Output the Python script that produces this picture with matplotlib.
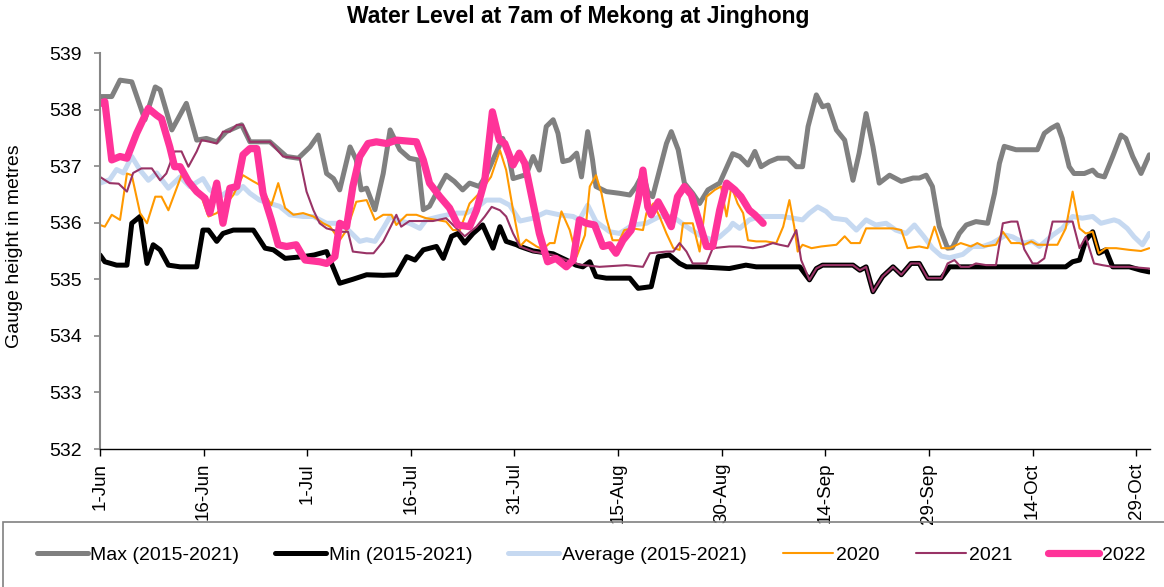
import matplotlib
matplotlib.use("Agg")
import matplotlib.pyplot as plt
from matplotlib.patches import Rectangle

plt.rcParams['font.family'] = ['Liberation Sans', 'DejaVu Sans']

# ---------------- data (day index from 1-Jun, metres) ----------------
TICK_DAYS = [0, 15, 30, 45, 60, 75, 90, 105, 120, 135, 150]
TICK_LABELS = ["1-Jun", "16-Jun", "1-Jul", "16-Jul", "31-Jul", "15-Aug",
               "30-Aug", "14-Sep", "29-Sep", "14-Oct", "29-Oct"]
Y_TICKS = [532, 533, 534, 535, 536, 537, 538, 539]

MAX_D = [0, 1.7, 2.9, 4.6, 6.5, 8.0, 8.7, 10.4, 12.5, 14.0, 15.4, 16.9, 18.3, 20.5, 21.7,
         24.6, 27.0, 28.7, 30.4, 31.6, 32.8, 33.8, 34.7, 36.2, 37.1, 37.8, 38.6, 39.8, 41.0,
         42.0, 43.4, 44.8, 46.0, 46.8, 47.7, 49.2, 50.1, 51.3, 52.5, 53.5, 54.9, 55.9, 57.1,
         58.3, 59.1, 59.8, 61.7, 62.7, 63.6, 64.6, 65.6, 66.3, 67.0, 68.0, 69.0, 69.7, 70.6,
         71.3, 71.8, 73.3, 75.2, 76.7, 77.6, 78.6, 79.3, 80.0, 81.0, 82.0, 82.7, 83.7, 84.6,
         85.8, 86.8, 88.0, 89.7, 91.6, 92.6, 93.8, 94.8, 95.7, 96.9, 98.1, 99.6, 100.8, 101.7,
         102.5, 103.7, 104.6, 105.4, 106.6, 107.8, 109.0, 109.9, 110.9, 111.9, 112.8, 114.3,
         116.0, 117.7, 118.6, 119.6, 120.5, 121.5, 122.7, 123.4, 124.4, 125.4, 126.8, 128.5,
         129.5, 130.2, 130.9, 132.6, 134.3, 135.7, 136.7, 137.7, 138.6, 139.3, 140.3, 141.0,
         142.5, 143.7, 144.4, 145.4, 146.6, 147.8, 148.5, 149.5, 150.7, 151.9]
MAX_V = [538.23, 538.23, 538.52, 538.49, 537.82, 538.40, 538.35, 537.64, 538.11, 537.46,
         537.49, 537.43, 537.61, 537.73, 537.43, 537.43, 537.17, 537.14, 537.34, 537.55,
         536.87, 536.78, 536.58, 537.34, 537.11, 536.58, 536.61, 536.23, 536.87, 537.64,
         537.29, 537.14, 537.11, 536.23, 536.29, 536.64, 536.84, 536.73, 536.58, 536.70,
         536.64, 536.84, 537.17, 537.49, 537.23, 536.78, 536.85, 537.17, 536.93, 537.70,
         537.82, 537.58, 537.08, 537.11, 537.23, 536.81, 537.61, 537.11, 536.64, 536.55,
         536.52, 536.49, 536.64, 536.87, 536.55, 536.46, 536.93, 537.40, 537.61, 537.29,
         536.70, 536.52, 536.34, 536.58, 536.70, 537.22, 537.17, 537.02, 537.26, 536.99,
         537.08, 537.14, 537.14, 536.99, 536.99, 537.70, 538.26, 538.05, 538.08, 537.64,
         537.46, 536.75, 537.23, 537.93, 537.34, 536.70, 536.84, 536.73, 536.79, 536.79,
         536.84, 536.64, 535.93, 535.55, 535.56, 535.81, 535.96, 536.02, 535.99, 536.52,
         537.05, 537.35, 537.29, 537.29, 537.29, 537.58, 537.67, 537.73, 537.49, 536.99,
         536.87, 536.87, 536.93, 536.84, 536.81, 537.17, 537.55, 537.49, 537.17, 536.87,
         537.20]

MIN_D = [0, 0.7, 2.4, 3.9, 4.6, 5.8, 6.8, 7.7, 8.7, 9.9, 11.6, 14.0, 14.9, 15.7, 16.9, 17.8,
         19.3, 22.2, 23.9, 25.1, 26.8, 29.4, 31.0, 32.8, 34.7, 36.6, 38.6, 41.0, 42.9, 44.4,
         45.6, 46.8, 48.7, 49.7, 50.9, 51.8, 52.8, 54.0, 55.4, 56.9, 57.9, 58.8, 60.3, 60.8,
         62.7, 65.6, 67.5, 68.9, 69.9, 70.9, 71.8, 73.3, 75.2, 76.7, 77.9, 79.8, 80.8, 82.4,
         83.9, 84.9, 86.8, 91.1, 93.5, 95.0, 101.3, 102.7, 103.7, 104.6, 106.6, 109.0, 110.0,
         110.9, 111.9, 113.3, 114.8, 116.0, 117.4, 118.6, 119.8, 121.8, 123.0, 134.5, 139.8,
         140.8, 141.8, 142.7, 143.7, 144.6, 145.6, 146.6, 149.0, 150.7, 151.9]
MIN_V = [535.43, 535.31, 535.25, 535.25, 535.99, 536.11, 535.28, 535.61, 535.52, 535.25,
         535.22, 535.22, 535.87, 535.87, 535.67, 535.81, 535.87, 535.87, 535.55, 535.52,
         535.37, 535.40, 535.43, 535.49, 534.93, 535.00, 535.08, 535.07, 535.08, 535.40,
         535.34, 535.52, 535.58, 535.37, 535.76, 535.81, 535.64, 535.81, 535.96, 535.55,
         535.93, 535.67, 535.61, 535.58, 535.50, 535.45, 535.34, 535.25, 535.22, 535.31,
         535.05, 535.02, 535.02, 535.02, 534.84, 534.87, 535.40, 535.43, 535.28, 535.22,
         535.22, 535.19, 535.25, 535.22, 535.22, 534.99, 535.19, 535.25, 535.25, 535.25,
         535.16, 535.22, 534.78, 535.05, 535.22, 535.08, 535.28, 535.28, 535.02, 535.02,
         535.22, 535.22, 535.22, 535.31, 535.34, 535.69, 535.84, 535.46, 535.52, 535.22,
         535.22, 535.16, 535.13]

AVG_D = [0, 1.4, 2.4, 3.4, 4.6, 5.8, 7.0, 8.2, 9.9, 11.6, 13.0, 14.9, 15.9, 17.4, 18.8, 19.8,
         20.7, 21.7, 23.1, 24.6, 26.0, 27.5, 29.4, 30.9, 32.8, 34.2, 35.7, 37.6, 38.6, 39.8,
         41.0, 42.0, 42.9, 44.8, 46.3, 47.2, 49.2, 51.6, 53.0, 54.5, 55.9, 57.9, 59.3, 60.8,
         62.7, 64.6, 66.5, 68.5, 69.4, 70.6, 71.8, 73.8, 75.2, 77.1, 79.1, 81.0, 82.9, 84.9,
         86.8, 88.7, 89.7, 91.1, 91.6, 92.6, 94.0, 95.5, 97.0, 98.8, 100.3, 101.7, 102.7,
         103.9, 105.1, 106.1, 108.0, 109.5, 110.9, 112.3, 113.8, 115.2, 116.7, 117.9, 119.3,
         120.5, 121.8, 123.0, 124.9, 126.3, 127.8, 129.2, 131.1, 132.1, 133.8, 135.0, 136.0,
         137.9, 139.3, 140.8, 142.2, 143.7, 144.9, 146.8, 147.5, 148.7, 149.7, 150.9, 151.9]
AVG_V = [536.70, 536.76, 536.94, 536.88, 537.17, 536.93, 536.75, 536.88, 536.61, 536.81,
         536.64, 536.78, 536.58, 536.46, 536.58, 536.52, 536.64, 536.52, 536.40, 536.34,
         536.29, 536.14, 536.11, 536.11, 535.99, 535.99, 535.90, 535.67, 535.70, 535.67,
         535.90, 536.11, 536.05, 535.99, 535.90, 536.05, 536.11, 536.17, 536.17, 536.26,
         536.40, 536.40, 536.31, 536.03, 536.08, 536.19, 536.14, 536.11, 536.05, 536.31,
         536.02, 535.84, 535.81, 535.96, 535.99, 536.11, 536.11, 535.93, 535.78, 535.69,
         535.75, 535.90, 535.99, 535.90, 536.05, 536.11, 536.11, 536.11, 536.08, 536.05,
         536.17, 536.28, 536.20, 536.08, 536.05, 535.87, 536.05, 535.96, 535.99, 535.87,
         535.81, 535.96, 535.75, 535.55, 535.41, 535.38, 535.44, 535.58, 535.58, 535.64,
         535.78, 535.75, 535.64, 535.67, 535.58, 535.78, 535.90, 536.11, 536.08, 536.11,
         535.99, 536.05, 536.02, 535.90, 535.75, 535.61, 535.81]

Y2020_D = [0, 0.7, 1.7, 2.9, 3.9, 4.6, 5.8, 6.8, 8.0, 8.9, 9.9, 11.8, 13.0, 14.5, 15.7, 16.9,
           18.3, 19.3, 20.7, 22.2, 23.1, 24.8, 25.8, 26.8, 28.0, 29.4, 30.9, 32.3, 33.3, 34.7,
           35.7, 37.1, 38.6, 39.8, 41.0, 42.2, 42.9, 44.4, 45.8, 47.2, 48.7, 50.1, 51.1, 52.1,
           53.5, 54.9, 56.6, 57.9, 58.8, 59.8, 60.8, 61.7, 63.2, 64.1, 65.1, 65.8, 66.8, 68.0,
           69.0, 70.2, 70.9, 71.8, 72.6, 73.3, 74.2, 75.2, 75.9, 77.1, 78.6, 79.1, 80.1, 81.0,
           82.0, 83.0, 83.9, 84.4, 85.8, 86.8, 87.8, 89.0, 89.9, 90.7, 91.4, 92.3, 93.1, 93.8,
           95.0, 96.4, 97.9, 98.9, 99.8, 100.5, 101.0, 101.7, 103.0, 104.4, 106.6, 107.8,
           108.7, 110.0, 110.9, 112.3, 114.8, 116.0, 116.9, 118.6, 119.8, 120.8, 121.8, 123.0,
           124.6, 126.1, 127.0, 128.0, 129.7, 130.7, 131.9, 133.1, 133.8, 134.8, 135.7, 138.6,
           139.8, 140.8, 141.8, 142.7, 143.7, 144.6, 145.6, 147.1, 149.0, 150.7, 151.9]
Y2020_V = [535.96, 535.93, 536.14, 536.05, 536.87, 536.84, 536.17, 535.99, 536.46, 536.46,
           536.22, 536.84, 536.70, 536.52, 536.11, 536.17, 536.34, 536.49, 536.84, 536.73,
           536.67, 536.31, 536.70, 536.26, 536.14, 536.17, 536.11, 535.99, 535.93, 535.69,
           535.87, 536.37, 536.40, 536.05, 536.14, 536.14, 535.96, 536.14, 536.14, 536.08,
           536.05, 536.02, 535.87, 535.87, 536.34, 536.52, 536.81, 537.28, 536.93, 536.22,
           535.58, 535.70, 535.58, 535.53, 535.64, 535.64, 536.20, 535.87, 535.40, 535.78,
           536.64, 536.84, 536.52, 536.08, 535.69, 535.69, 535.87, 535.90, 535.87, 536.17,
           536.34, 536.11, 535.81, 535.55, 535.52, 535.99, 535.99, 535.49, 536.46, 536.58,
           536.64, 536.11, 536.64, 536.34, 536.17, 535.69, 535.67, 535.67, 535.64, 535.93,
           536.40, 535.93, 535.49, 535.61, 535.55, 535.58, 535.61, 535.76, 535.64, 535.64,
           535.90, 535.90, 535.90, 535.87, 535.55, 535.58, 535.55, 535.93, 535.55, 535.55,
           535.64, 535.58, 535.64, 535.58, 535.61, 535.84, 535.64, 535.64, 535.61, 535.67,
           535.61, 535.61, 535.90, 536.55, 535.90, 535.81, 535.84, 535.46, 535.55, 535.55,
           535.52, 535.50, 535.55]

Y2021_D = [0, 1.4, 2.7, 3.9, 4.8, 6.0, 7.5, 8.7, 9.6, 10.8, 11.8, 12.8, 14.0, 14.7, 15.9,
           16.9, 17.8, 18.8, 19.8, 20.7, 21.7, 24.6, 26.5, 28.9, 29.9, 30.9, 31.8, 32.8, 34.7,
           35.9, 36.6, 38.6, 39.6, 41.0, 42.2, 42.9, 43.6, 44.8, 48.2, 50.1, 52.8, 54.5, 55.7,
           56.7, 57.9, 58.8, 59.8, 60.8, 62.7, 65.6, 67.5, 69.4, 72.3, 76.2, 78.6, 79.6, 82.0,
           83.0, 83.9, 84.9, 85.8, 87.8, 88.7, 91.1, 92.6, 94.5, 96.0, 97.4, 98.4, 99.6, 100.8,
           101.5, 102.7, 103.7, 104.6, 106.6, 109.0, 110.0, 110.9, 111.9, 113.3, 114.8, 116.0,
           117.4, 118.6, 119.8, 121.8, 122.7, 123.7, 124.6, 125.8, 126.8, 128.3, 129.7, 130.7,
           131.9, 132.8, 133.8, 135.0, 135.7, 136.7, 137.9, 140.8, 141.8, 142.7, 143.9, 145.1,
           146.6, 149.0, 151.9]
Y2021_V = [536.81, 536.70, 536.69, 536.55, 536.88, 536.96, 536.96, 536.75, 536.87, 537.26,
           537.26, 536.99, 537.26, 537.46, 537.43, 537.40, 537.61, 537.61, 537.73, 537.73,
           537.43, 537.43, 537.17, 537.14, 536.55, 536.22, 535.99, 535.90, 535.84, 535.84,
           535.49, 535.46, 535.46, 535.67, 535.96, 536.14, 535.93, 536.03, 536.03, 536.08,
           535.76, 535.93, 536.11, 536.28, 536.22, 536.11, 535.81, 535.58, 535.49, 535.43,
           535.34, 535.26, 535.22, 535.25, 535.22, 535.46, 535.49, 535.49, 535.64, 535.49,
           535.28, 535.28, 535.55, 535.58, 535.58, 535.55, 535.58, 535.64, 535.61, 535.58,
           535.87, 535.34, 534.99, 535.19, 535.25, 535.25, 535.25, 535.16, 535.22, 534.78,
           535.05, 535.22, 535.08, 535.28, 535.28, 535.02, 535.02, 535.28, 535.34, 535.22,
           535.22, 535.28, 535.25, 535.25, 535.99, 536.02, 536.02, 535.53, 535.28, 535.28,
           535.37, 536.02, 536.02, 535.55, 535.75, 535.28, 535.25, 535.22, 535.22, 535.19]

Y2022_D = [0, 0.7, 1.7, 2.9, 3.9, 5.3, 7.0, 8.2, 8.9, 10.1, 10.8, 11.6, 12.8, 14.0, 15.2,
           15.9, 16.9, 17.8, 18.8, 19.8, 20.7, 21.7, 22.7, 23.6, 24.8, 25.8, 27.0, 28.4, 29.7,
           31.8, 32.8, 34.0, 34.7, 35.7, 36.6, 37.6, 38.8, 40.0, 41.5, 42.9, 45.8, 46.8, 47.7,
           49.2, 50.6, 51.8, 53.5, 54.5, 55.7, 56.8, 57.8, 58.6, 59.8, 60.7, 61.5, 62.7, 63.6,
           64.8, 66.0, 67.5, 68.5, 69.4, 70.4, 71.6, 72.8, 73.8, 74.7, 75.7, 76.9, 77.9, 78.6,
           79.3, 79.8, 80.8, 81.7, 82.7, 83.6, 84.6, 85.6, 86.8, 87.8, 88.7, 89.7, 90.7, 91.9,
           92.8, 94.0, 94.8, 96.0]
Y2022_V = [538.11, 538.14, 537.11, 537.17, 537.14, 537.58, 538.02, 537.90, 537.84, 537.34,
           536.99, 536.99, 536.73, 536.55, 536.43, 536.17, 536.70, 535.99, 536.61, 536.64,
           537.20, 537.31, 537.31, 536.52, 536.05, 535.61, 535.58, 535.61, 535.34, 535.31,
           535.28, 535.40, 535.99, 535.93, 536.64, 537.17, 537.40, 537.43, 537.40, 537.46,
           537.43, 537.11, 536.70, 536.46, 536.26, 535.96, 535.93, 536.22, 536.75, 537.96,
           537.46, 537.40, 537.02, 537.23, 537.05, 536.34, 535.81, 535.31, 535.37, 535.22,
           535.34, 536.05, 535.99, 535.96, 535.58, 535.61, 535.46, 535.69, 535.87, 536.40,
           536.93, 536.28, 536.14, 536.37, 536.17, 535.93, 536.46, 536.64, 536.49, 535.99,
           535.58, 535.58, 536.22, 536.70, 536.58, 536.46, 536.22, 536.14, 535.99]

SERIES = [
    ("Max (2015-2021)", MAX_D, MAX_V, "#808080", 3.6),
    ("Min (2015-2021)", MIN_D, MIN_V, "#000000", 3.6),
    ("Average (2015-2021)", AVG_D, AVG_V, "#C6D9F1", 3.6),
    ("2020", Y2020_D, Y2020_V, "#FF9900", 1.5),
    ("2021", Y2021_D, Y2021_V, "#993366", 1.5),
    ("2022", Y2022_D, Y2022_V, "#FF3399", 5.2),
]

# ---------------- figure ----------------
W, H = 1164, 587
fig = plt.figure(figsize=(W / 100, H / 100), dpi=100)
ax = fig.add_axes([100 / W, 1 - 449 / H, 1050 / W, 396 / H])

handles = []
for name, d, v, col, lw in SERIES:
    ln, = ax.plot(d, v, color=col, lw=lw, label=name,
                  solid_joinstyle="round", solid_capstyle="round")
    handles.append(ln)

ax.set_xlim(0, 152)
ax.set_ylim(532, 539)
ax.set_xticks(TICK_DAYS)
ax.set_xticklabels(TICK_LABELS, rotation=90, va="top", ha="center", fontsize=13.5)
ax.set_yticks(Y_TICKS)
ax.set_yticklabels([str(t) for t in Y_TICKS], fontsize=14)

for s in ("top", "right"):
    ax.spines[s].set_visible(False)
ax.spines["left"].set_color("#868686")
ax.spines["left"].set_linewidth(1.5)
ax.spines["bottom"].set_color("#000000")
ax.spines["bottom"].set_linewidth(1.0)
ax.tick_params(axis="y", direction="out", length=4, width=1.2, color="#868686", pad=9)
ax.tick_params(axis="x", direction="out", length=5, width=1.0, color="#000000", pad=5)

fig.text(15 / W, 1 - 246 / H, "Gauge height in metres", rotation=90,
         ha="center", va="center", fontsize=14)
fig.text(578 / W, 1 - 17 / H, "Water Level at 7am of Mekong at Jinghong",
         ha="center", va="center", fontsize=16.5, fontweight="bold")

# legend frame
fig.patches.append(Rectangle((3 / W, -0.05), 1.2, 1 - 522 / H + 0.05,
                             transform=fig.transFigure, fill=False,
                             edgecolor="#808080", lw=1.2))
fig.legend(handles=handles, loc="center left", bbox_to_anchor=(37 / W, 1 - 555 / H),
           ncol=6, frameon=False, fontsize=14, handlelength=2.6, handletextpad=0.15,
           columnspacing=1.85, borderpad=0, borderaxespad=0)

fig.savefig("out.png", dpi=100)
